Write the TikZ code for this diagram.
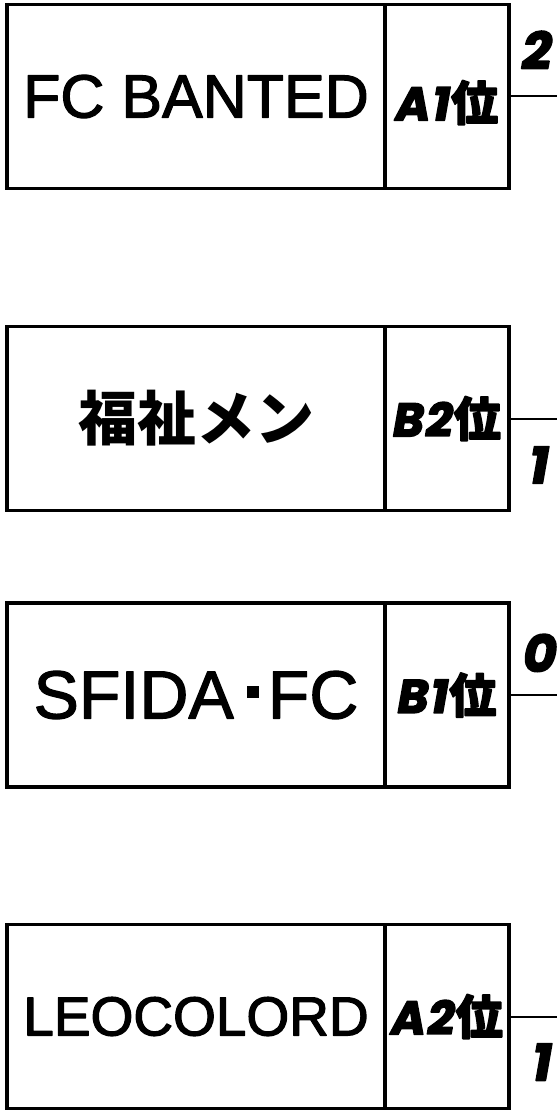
\documentclass[tikz,border=0pt]{standalone}
\usepackage{fontspec}
\setmainfont{Liberation Sans}
\newfontfamily\cjkfont{Noto Sans CJK JP}
\newfontfamily\rankfont{Poppins}
\newcommand{\heavy}[2]{\special{pdf:literal direct #1 w 2 Tr 1 j}#2\special{pdf:literal direct 0 Tr}}
\newcommand{\rk}[2]{\heavy{1.6}{{\rankfont\bfseries\itshape\fontsize{47}{47}\selectfont #1\hspace{2pt}#2\hspace{1pt}}{\cjkfont\bfseries\fontsize{47}{47}\selectfont 位}}}
\begin{document}
\begin{tikzpicture}[x=1pt,y=-1pt,
  boxline/.style={draw=black, line width=3.2pt},
  namebox/.style={boxline, minimum width=378pt, minimum height=184pt, inner sep=0pt, outer sep=0pt, anchor=north west},
  rankbox/.style={boxline, minimum width=124pt, minimum height=184pt, inner sep=0pt, outer sep=0pt, anchor=north west},
  link/.style={draw=black, line width=2pt},
  score/.style={inner sep=0pt, font=\rankfont\bfseries\itshape\fontsize{52}{52}\selectfont}]
\useasboundingbox (0,0) rectangle (557,1110);
% box 1
\node[namebox, font=\fontsize{61}{61}\selectfont] (n1) at (7,4.5) {\heavy{1.2}{FC BANTED}};
\node[rankbox] (r1) at (385,4.5) {\raisebox{-6pt}[\height][\depth]{\rk{A}{1}}};
\coordinate (e1) at (557,96.5);
\draw[link] (r1.east) -- (e1);
\node[score] (s1) at (537,50) {\heavy{1.6}{2}};
% box 2
\node[namebox, font=\cjkfont\bfseries\fontsize{59}{59}\selectfont] (n2) at (7,326.5) {福祉メン};
\node[rankbox] (r2) at (385,326.5) {\rk{B}{2}};
\coordinate (e2) at (557,418.5);
\draw[link] (r2.east) -- (e2);
\node[score] (s2) at (539,465) {\heavy{1.6}{1}};
% box 3
\node[namebox, font=\fontsize{68}{68}\selectfont] (n3) at (7,603) {\heavy{1.2}{SFIDA}\hspace{13pt}\rule[20pt]{12pt}{12pt}\hspace{9pt}\heavy{1.2}{FC}};
\node[rankbox] (r3) at (385,603) {\rk{B}{1}};
\coordinate (e3) at (557,695);
\draw[link] (r3.east) -- (e3);
\node[score] (s3) at (540,653) {\heavy{1.6}{0}};
% box 4
\node[namebox, font=\fontsize{55}{55}\selectfont] (n4) at (7,924.5) {\heavy{1.2}{LEOCOLORD}};
\node[rankbox] (r4) at (385,924.5) {\rk{A}{2}};
\coordinate (e4) at (557,1016.5);
\draw[link] (r4.east) -- (e4);
\node[score] (s4) at (542,1062) {\heavy{1.6}{1}};
\end{tikzpicture}
\end{document}
